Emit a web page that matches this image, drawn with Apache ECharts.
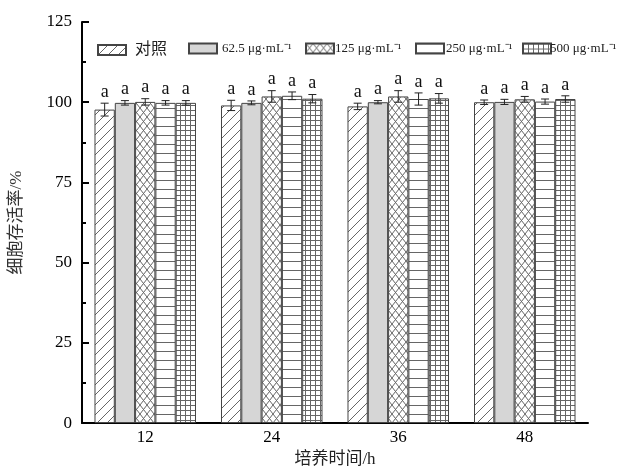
<!DOCTYPE html>
<html>
<head>
<meta charset="utf-8">
<script src="https://cdn.jsdelivr.net/npm/echarts@6/dist/echarts.min.js"></script>
<style>
  html, body { margin: 0; padding: 0; background: #fff; }
  #chart { width: 621px; height: 473px; }
</style>
</head>
<body>
<div id="chart"></div>
<script>
const categories = ['12', '24', '36', '48'];
const seriesNames = ['对照', '62.5 μg·mL⁻¹', '125 μg·mL⁻¹', '250 μg·mL⁻¹', '500 μg·mL⁻¹'];
// 均值（每组按 12/24/36/48 h）
const control = [97.7, 99.0, 98.7, 100.0];
const c62 = [99.8, 99.8, 100.0, 100.1];
const c125 = [100.1, 101.8, 101.8, 100.9];
const c250 = [99.8, 102.0, 101.0, 100.2];
const c500 = [99.8, 101.1, 101.2, 101.0];
// 误差
const controlErr = [2.0, 1.6, 1.0, 0.7];
const c62Err = [0.7, 0.6, 0.5, 0.8];
const c125Err = [1.0, 1.8, 1.8, 0.9];
const c250Err = [0.7, 1.2, 1.9, 0.8];
const c500Err = [0.7, 1.3, 1.5, 1.0];
const sigLetters = ['a', 'a', 'a', 'a', 'a'];
const yTicks = [0, 25, 50, 75, 100, 125];

const means = [control, c62, c125, c250, c500];
const errs = [controlErr, c62Err, c125Err, c250Err, c500Err];

const BAR_W = 20.3;
const FONT = '"Liberation Serif", "Noto Sans CJK SC", serif';
const LINE = '#666';

// 填充纹理
function makePattern(type) {
  const c = document.createElement('canvas');
  let w = 10, h = 10;
  if (type === 'cross') { w = 7; h = 9; }
  if (type === 'hline') { w = 10; h = 9; }
  if (type === 'grid') { w = 5; h = 5; }
  c.width = w; c.height = h;
  const ctx = c.getContext('2d');
  ctx.fillStyle = '#fff';
  ctx.fillRect(0, 0, w, h);
  ctx.strokeStyle = LINE;
  ctx.lineWidth = 1;
  ctx.beginPath();
  if (type === 'diag') {
    ctx.moveTo(-1, h + 1); ctx.lineTo(w + 1, -1);
    ctx.moveTo(-1, 1); ctx.lineTo(1, -1);
    ctx.moveTo(w - 1, h + 1); ctx.lineTo(w + 1, h - 1);
  } else if (type === 'cross') {
    ctx.moveTo(0, 0); ctx.lineTo(w, h);
    ctx.moveTo(w, 0); ctx.lineTo(0, h);
  } else if (type === 'hline') {
    ctx.moveTo(0, 0.5); ctx.lineTo(w, 0.5);
  } else if (type === 'grid') {
    ctx.moveTo(0, 0.5); ctx.lineTo(w, 0.5);
    ctx.moveTo(0.5, 0); ctx.lineTo(0.5, h);
  }
  ctx.stroke();
  return { image: c, repeat: 'repeat' };
}

const fills = [
  makePattern('diag'),
  '#d6d6d6',
  makePattern('cross'),
  makePattern('hline'),
  makePattern('grid')
];

const barSeries = seriesNames.map((name, i) => ({
  name: name,
  type: 'bar',
  barWidth: BAR_W,
  barGap: '0%',
  data: means[i],
  itemStyle: {
    color: fills[i],
    borderColor: '#444',
    borderWidth: 1
  },
  z: 2
}));

const errData = [];
means.forEach((arr, s) => {
  arr.forEach((v, c) => errData.push([c, s, v, errs[s][c]]));
});

const errSeries = {
  type: 'custom',
  z: 5,
  silent: true,
  data: errData,
  renderItem: (params, api) => {
    const cat = api.value(0), s = api.value(1), m = api.value(2), e = api.value(3);
    const x = api.coord([cat, m])[0] + (s - 2) * BAR_W;
    const top = api.coord([cat, m + e])[1];
    const bot = api.coord([cat, m - e])[1];
    const st = { stroke: '#222', lineWidth: 1 };
    return {
      type: 'group',
      children: [
        { type: 'line', shape: { x1: x, y1: top, x2: x, y2: bot }, style: st },
        { type: 'line', shape: { x1: x - 4, y1: top, x2: x + 4, y2: top }, style: st },
        { type: 'line', shape: { x1: x - 4, y1: bot, x2: x + 4, y2: bot }, style: st },
        {
          type: 'text',
          style: {
            x: x, y: top - 2, text: sigLetters[s],
            fill: '#111', font: '18px ' + FONT,
            textAlign: 'center', textVerticalAlign: 'bottom'
          }
        }
      ]
    };
  }
};

const legendPos = [92, 183, 300, 410, 517];
const legendTextPad = [4, 0, -4, -3, -6];
const legends = seriesNames.map((name, i) => ({
  data: [name],
  left: legendPos[i],
  top: 37,
  itemWidth: 28,
  itemHeight: 10,
  itemGap: 2,
  icon: 'rect',
  textStyle: {
    fontFamily: FONT,
    fontSize: i === 0 ? 16 : 13,
    color: '#222',
    padding: [0, 0, 0, legendTextPad[i]]
  },
  selectedMode: false
}));

const chart = echarts.init(document.getElementById('chart'));
chart.setOption({
  backgroundColor: '#fff',
  animation: false,
  legend: legends,
  grid: { left: 81, right: 33, top: 22, bottom: 46 },
  xAxis: [
    {
      type: 'category',
      data: categories,
      position: 'bottom',
      name: '培养时间/h',
      nameLocation: 'middle',
      nameGap: 23,
      nameTextStyle: { fontFamily: FONT, fontSize: 17, color: '#222' },
      axisLine: { lineStyle: { color: '#000', width: 2 } },
      axisTick: { inside: true, length: 3, lineStyle: { width: 2, color: '#000' } },
      axisLabel: { fontFamily: FONT, fontSize: 17, color: '#000', margin: 6 }
    },
    {
      type: 'category',
      data: categories,
      position: 'bottom',
      axisLine: { show: false },
      axisTick: { inside: true, length: 6, alignWithLabel: true, lineStyle: { width: 2, color: '#000' } },
      axisLabel: { show: false }
    }
  ],
  yAxis: {
    type: 'value',
    min: yTicks[0],
    max: yTicks[yTicks.length - 1],
    interval: 25,
    name: '细胞存活率/%',
    nameLocation: 'middle',
    nameGap: 57,
    nameTextStyle: { fontFamily: FONT, fontSize: 17, color: '#333' },
    axisLine: { show: true, lineStyle: { color: '#000', width: 2 } },
    axisTick: { show: true, inside: true, length: 7, lineStyle: { width: 2, color: '#000' } },
    minorTick: { show: true, splitNumber: 2, length: 4, lineStyle: { width: 2, color: '#000' } },
    axisLabel: { fontFamily: FONT, fontSize: 17, color: '#000', margin: 10 },
    splitLine: { show: false }
  },
  series: barSeries.concat([errSeries])
});
</script>
</body>
</html>
